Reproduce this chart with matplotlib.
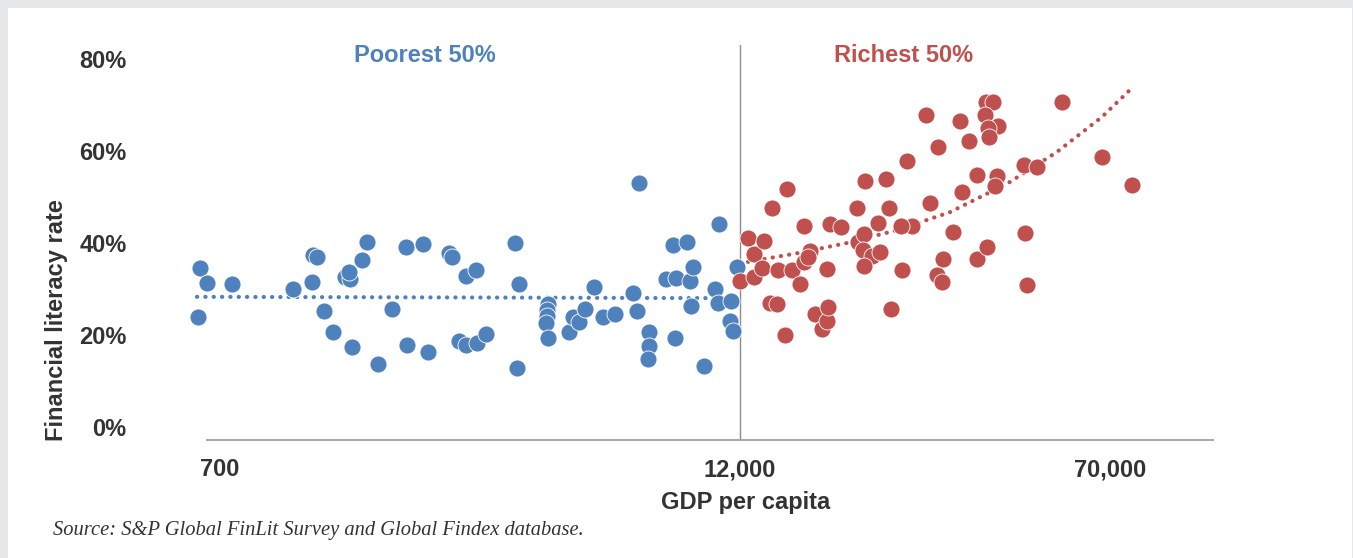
import numpy as np
import matplotlib.pyplot as plt
from matplotlib.patches import Rectangle

W, H = 1353, 558

# position along the GDP axis (chart units) and financial literacy rate (%)
poor_x = [198, 200, 207, 232, 293, 312, 313, 317, 324, 333, 345, 350, 349, 352,
          362, 367, 378, 392, 406, 407, 423, 428, 449, 452, 459, 466, 466, 476,
          477, 486, 515, 519, 517, 548, 547, 547, 546, 548, 569, 573, 579, 585,
          594, 603, 615, 633, 637, 639, 649, 649, 648, 666, 676, 675, 673, 687,
          690, 693, 691, 704, 715, 719, 718, 731, 730, 733, 737]
poor_y = [23.9, 34.6, 31.3, 31.1, 30.0, 31.5, 37.4, 37.0, 25.2, 20.7, 32.6, 32.2,
          33.7, 17.4, 36.3, 40.2, 13.7, 25.7, 39.1, 17.8, 39.8, 16.3, 37.8, 37.0,
          18.7, 17.8, 32.8, 34.1, 18.3, 20.2, 40.0, 31.1, 12.8, 26.7, 25.4, 24.1,
          22.6, 19.3, 20.7, 23.9, 22.8, 25.7, 30.4, 23.9, 24.6, 29.1, 25.2, 53.0,
          20.7, 17.6, 14.8, 32.2, 32.4, 19.3, 39.6, 40.2, 31.7, 34.8, 26.3, 13.3,
          30.0, 44.1, 27.0, 27.4, 23.0, 20.9, 34.8]

rich_x = [740, 748, 754, 754, 764, 762, 772, 787, 770, 777, 778, 785, 792, 800,
          804, 804, 810, 808, 815, 822, 827, 827, 828, 830, 841, 857, 865, 886,
          858, 864, 863, 872, 880, 864, 889, 878, 891, 902, 907, 926, 938, 960,
          969, 977, 930, 962, 953, 943, 937, 942, 977, 912, 901, 986, 993, 985,
          998, 988, 989, 997, 995, 1024, 1037, 987, 1025, 1027, 1062, 1102, 1132]
rich_y = [31.7, 41.1, 37.6, 32.6, 40.4, 34.6, 47.6, 51.7, 27.0, 26.7, 34.1, 20.0,
          34.1, 31.1, 43.7, 35.9, 38.3, 37.0, 24.6, 21.3, 34.3, 23.0, 26.1, 44.1,
          43.5, 47.6, 53.5, 53.9, 40.2, 42.0, 38.5, 37.2, 38.0, 35.0, 47.6, 44.3,
          25.7, 34.1, 57.8, 67.8, 60.9, 66.5, 62.2, 54.8, 48.7, 51.1, 42.4, 36.5,
          33.0, 31.5, 36.5, 43.7, 43.7, 70.7, 70.7, 67.8, 65.4, 65.0, 63.0, 54.6,
          52.4, 57.0, 56.5, 39.1, 42.2, 30.9, 70.7, 58.7, 52.6]

# trendlines as drawn in the source chart
poor_trend_x = [197, 735]
poor_trend_y = [28.3, 28.0]
rich_trend_x = [748, 798, 847, 897, 950, 1008, 1057, 1102, 1132]
rich_trend_y = [35.9, 37.8, 40.0, 42.8, 46.7, 53.0, 59.8, 67.4, 73.7]

xtick_pos = [220, 740, 1110]
xtick_labels = ['700', '12,000', '70,000']
ytick_vals = [0, 20, 40, 60, 80]
split_x = 740

blue = '#4f81bd'
red = '#c0504d'
txt = '#333333'
font = 'Liberation Sans'

fig = plt.figure(figsize=(W / 100, H / 100), dpi=100, facecolor='#e6e7e9')
fig.patches.append(Rectangle((8 / W, 0), (1352 - 8) / W, (H - 8) / H,
                             transform=fig.transFigure, facecolor='white',
                             edgecolor='none', zorder=-5))

# axes box in pixels: x 207..1213, y 45..440
ax = fig.add_axes([207 / W, (H - 440) / H, (1213 - 207) / W, (440 - 45) / H])
ax.set_zorder(2)
ax.set_facecolor('none')
ax.set_xlim(207, 1213)
ax.set_ylim(-2.83, 83.04)

dot = dict(lw=3.0, dashes=(0.05, 1.95), dash_capstyle='round', zorder=2, clip_on=False)
ax.plot(poor_trend_x, poor_trend_y, color=blue, **dot)
ax.plot(rich_trend_x, rich_trend_y, color=red, **dot)

ax.scatter(poor_x, poor_y, s=150, color=blue, edgecolors='white', linewidths=0.6,
           zorder=3, clip_on=False)
ax.scatter(rich_x, rich_y, s=150, color=red, edgecolors='white', linewidths=0.6,
           zorder=3, clip_on=False)

ax.axvline(split_x, color='#8c8c8c', lw=1.0, zorder=1)

for s in ['top', 'right', 'left']:
    ax.spines[s].set_visible(False)
ax.spines['bottom'].set_color('#a6a6a6')
ax.spines['bottom'].set_linewidth(1.4)

ax.set_xticks(xtick_pos)
ax.set_xticklabels(xtick_labels)
ax.set_yticks(ytick_vals)
ax.set_yticklabels([f'{v}%' for v in ytick_vals])
ax.tick_params(axis='x', length=0, pad=13)
ax.tick_params(axis='y', length=0, pad=58)
for lab in ax.get_xticklabels() + ax.get_yticklabels():
    lab.set_fontfamily(font)
    lab.set_fontweight('bold')
    lab.set_fontsize(17)
    lab.set_color(txt)

fig.text(746 / W, 1 - 503 / H, 'GDP per capita', ha='center', va='center',
         fontsize=17, fontweight='bold', family=font, color=txt)
fig.text(57 / W, 1 - 320 / H, 'Financial literacy rate', ha='center', va='center',
         rotation=90, fontsize=17, fontweight='bold', family=font, color=txt)
fig.text(425 / W, 1 - 55 / H, 'Poorest 50%', ha='center', va='center',
         fontsize=17, fontweight='bold', family=font, color=blue)
fig.text(904 / W, 1 - 55 / H, 'Richest 50%', ha='center', va='center',
         fontsize=17, fontweight='bold', family=font, color=red)
fig.text(53 / W, 1 - 530 / H, 'Source: S&P Global FinLit Survey and Global Findex database.',
         ha='left', va='center', fontsize=14.8, style='italic', family='Liberation Serif',
         color=txt)

fig.savefig('out.png', dpi=100, facecolor=fig.get_facecolor())
